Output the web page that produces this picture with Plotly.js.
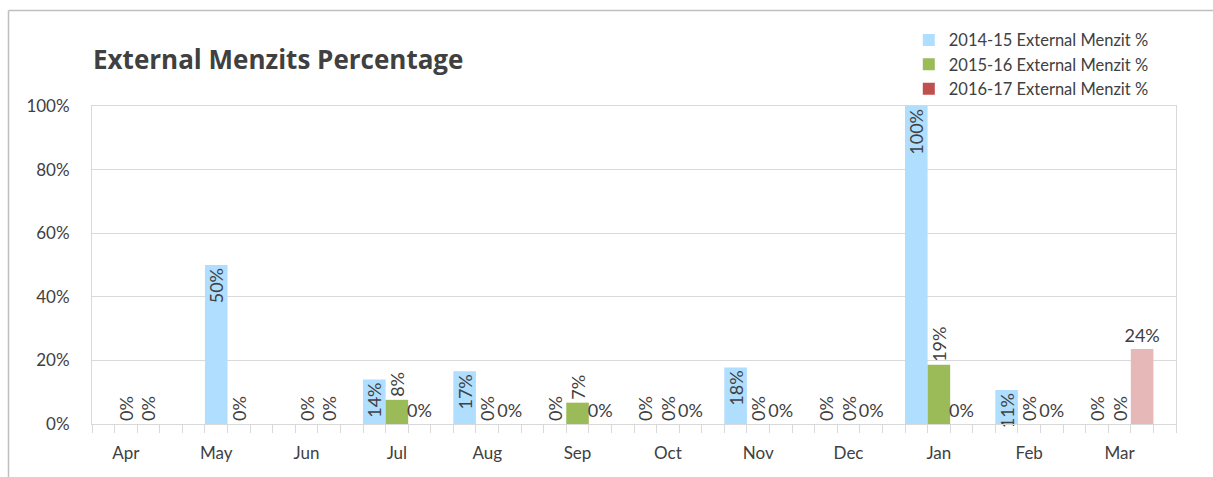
<!DOCTYPE html>
<html>
<head>
<meta charset="utf-8">
<script src="https://cdn.plot.ly/plotly-3.0.1.min.js"></script>
<style>html,body{margin:0;padding:0;background:#fff;overflow:hidden}#chart{width:1213px;height:477px}</style>
</head>
<body>
<div id="chart"></div>
<script>
const months = ["Apr","May","Jun","Jul","Aug","Sep","Oct","Nov","Dec","Jan","Feb","Mar"];
const series1Name = "2014-15 External Menzit %";
const series2Name = "2015-16 External Menzit %";
const series3Name = "2016-17 External Menzit %";
const values1415 = [0, 0.50, 0, 0.14, 0.166, 0, 0, 0.178, 0, 1.00, 0.107, 0];
const values1516 = [0, 0, 0, 0.076, 0, 0.067, 0, 0, 0, 0.186, 0, 0];
const values1617 = [null, null, null, 0, 0, 0, 0, 0, 0, 0, 0, 0.236];

const xpos = months.map((m, i) => i);
const txtColor = '#404040';
const FONT = 'Lato, "Open Sans", sans-serif';
const lblFont = {family: FONT, size: 18, color: txtColor};
const fmt = v => (v === null ? '' : Math.round(v * 100) + '%');

// slot layout: 3 bar slots + 1 gap slot per month (as in the source chart);
// months where the 2016-17 series has no entry show the other two series one slot to the right
const SLOT = 0.25;
const slotOffset = k => -0.375 + SLOT * k;
const shift = values1617.map(v => (v === null ? 1 : 0));

const common = {
  type: 'bar', x: xpos, width: SLOT, constraintext: 'none', cliponaxis: false,
  textfont: lblFont, insidetextfont: lblFont, outsidetextfont: lblFont,
  hoverinfo: 'y+name'
};

const traces = [
  Object.assign({}, common, {
    name: series1Name, y: values1415, legendgroup: 'a',
    offset: shift.map(s => slotOffset(0 + s)),
    marker: {color: '#AFDEFF'},
    text: values1415.map(fmt),
    textposition: values1415.map(v => v > 0 ? 'inside' : 'outside'),
    textangle: -90
  }),
  Object.assign({}, common, {
    name: series2Name, y: values1516, legendgroup: 'b',
    offset: shift.map(s => slotOffset(1 + s)),
    marker: {color: '#9BBB59'},
    text: values1516.map(fmt),
    textposition: 'outside',
    textangle: -90
  }),
  Object.assign({}, common, {
    name: series3Name, y: values1617, legendgroup: 'c',
    offset: slotOffset(2),
    marker: {color: values1617.map(v => v > 0 ? '#E6B9B8' : '#C0504D')},
    text: values1617.map(fmt),
    textposition: 'outside',
    textangle: 0
  })
];

const frameLine = {color: '#BFBFBF', width: 1.5};
const layout = {
  width: 1213, height: 477,
  margin: {l: 92, r: 37, t: 106, b: 53, pad: 0},
  paper_bgcolor: '#fff', plot_bgcolor: '#fff',
  font: {family: FONT, color: txtColor, size: 17},
  title: {
    text: '<b>External Menzits Percentage</b>',
    font: {family: '"Open Sans", Lato, sans-serif', size: 26, color: txtColor},
    x: 93 / 1213, xanchor: 'left', xref: 'container',
    y: 1 - 60 / 477, yanchor: 'middle', yref: 'container'
  },
  barmode: 'overlay',
  showlegend: true,
  legend: {
    x: 0.7535, xanchor: 'left', y: 1.262, yanchor: 'top',
    font: {family: FONT, size: 16.5, color: txtColor},
    tracegroupgap: 6, bgcolor: 'rgba(0,0,0,0)', traceorder: 'normal'
  },
  xaxis: {
    range: [-0.375, 11.625], fixedrange: true,
    tickvals: xpos, ticktext: months,
    ticks: 'outside', ticklen: 14, tickcolor: 'rgba(0,0,0,0)',
    minor: {ticks: 'outside', ticklen: 8, tickcolor: '#D9D9D9', tick0: -0.375, dtick: SLOT, showgrid: false},
    showline: true, linecolor: '#D9D9D9', linewidth: 1, mirror: true,
    showgrid: false, zeroline: false,
    tickfont: {family: FONT, size: 17, color: txtColor}
  },
  yaxis: {
    range: [0, 1], fixedrange: true, dtick: 0.2, tick0: 0, tickformat: '.0%',
    ticks: 'outside', ticklen: 18, tickcolor: 'rgba(0,0,0,0)',
    showline: true, linecolor: '#D9D9D9', linewidth: 1, mirror: true,
    showgrid: true, gridcolor: '#D9D9D9', gridwidth: 1, zeroline: false,
    tickfont: {family: FONT, size: 17, color: txtColor}
  },
  shapes: [
    {type: 'line', xref: 'paper', yref: 'paper',
     x0: (8.5 - 92) / 1084, x1: (1213 - 92) / 1084,
     y0: (424 - 10.5) / 318, y1: (424 - 10.5) / 318, line: frameLine, layer: 'below'},
    {type: 'line', xref: 'paper', yref: 'paper',
     x0: (8.5 - 92) / 1084, x1: (8.5 - 92) / 1084,
     y0: (424 - 10.5) / 318, y1: -0.3, line: frameLine, layer: 'below'}
  ]
};

Plotly.newPlot('chart', traces, layout, {displayModeBar: false, staticPlot: true});
</script>
</body>
</html>
